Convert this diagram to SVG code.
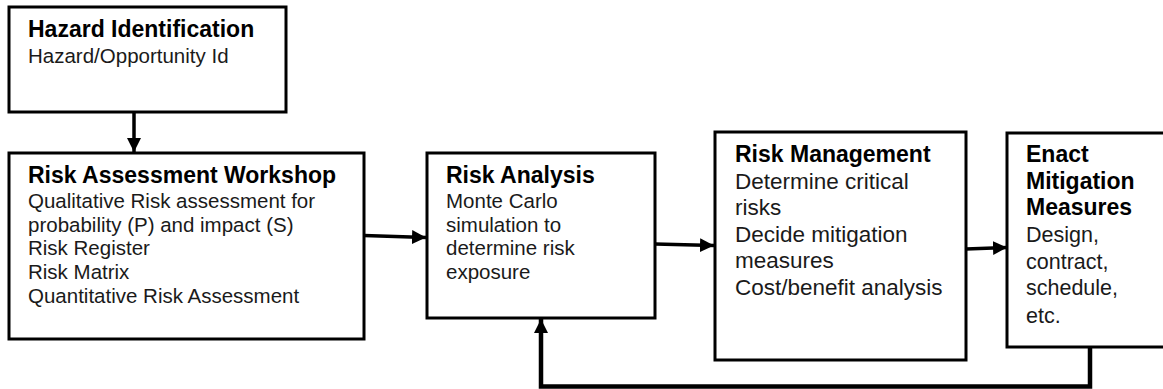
<svg xmlns="http://www.w3.org/2000/svg" width="1163" height="389" viewBox="0 0 1163 389">
<style>
.box{fill:#fff;stroke:#000;stroke-width:3}
.t{font-family:"Liberation Sans",Arial,sans-serif;font-weight:bold;font-size:23px;fill:#000}
.b{font-family:"Liberation Sans",Arial,sans-serif;font-size:20.5px;fill:#1a1a1a}
.b4{font-family:"Liberation Sans",Arial,sans-serif;font-size:22.5px;fill:#1a1a1a}
.b5{font-family:"Liberation Sans",Arial,sans-serif;font-size:21.5px;fill:#1a1a1a}
.c{fill:none;stroke:#000;stroke-width:3.5}
.fb{fill:none;stroke:#000;stroke-width:4.5}
</style>
<defs>
<marker id="ah" markerUnits="userSpaceOnUse" markerWidth="15" markerHeight="15" refX="14" refY="7" orient="auto">
<path d="M0,0 L14,7 L0,14 z" fill="#000"/>
</marker>
</defs>
<g id="hazard-identification">
<rect class="box" x="9" y="7" width="277" height="105"/>
<text class="t" x="28" y="37">Hazard Identification</text>
<text class="b" x="28" y="63">Hazard/Opportunity Id</text>
</g>
<g id="risk-assessment-workshop">
<rect class="box" x="9" y="153" width="355" height="186"/>
<text class="t" x="28" y="183">Risk Assessment Workshop</text>
<text class="b" x="28" y="208">Qualitative Risk assessment for</text>
<text class="b" x="28" y="231.7">probability (P) and impact (S)</text>
<text class="b" x="28" y="255.3">Risk Register</text>
<text class="b" x="28" y="279">Risk Matrix</text>
<text class="b" x="28" y="302.7">Quantitative Risk Assessment</text>
</g>
<g id="risk-analysis">
<rect class="box" x="427" y="153" width="228" height="165"/>
<text class="t" x="446" y="183">Risk Analysis</text>
<text class="b" x="446" y="208">Monte Carlo</text>
<text class="b" x="446" y="231.7">simulation to</text>
<text class="b" x="446" y="255.3">determine risk</text>
<text class="b" x="446" y="279">exposure</text>
</g>
<g id="risk-management">
<rect class="box" x="715" y="132" width="251" height="228"/>
<text class="t" x="735" y="162">Risk Management</text>
<text class="b4" x="735" y="188.5">Determine critical</text>
<text class="b4" x="735" y="215">risks</text>
<text class="b4" x="735" y="241.5">Decide mitigation</text>
<text class="b4" x="735" y="268">measures</text>
<text class="b4" x="735" y="294.5">Cost/benefit analysis</text>
</g>
<g id="enact-mitigation-measures">
<rect class="box" x="1007" y="133" width="180" height="214"/>
<text class="t" x="1026" y="162">Enact</text>
<text class="t" x="1026" y="188.7">Mitigation</text>
<text class="t" x="1026" y="215.4">Measures</text>
<text class="b5" x="1026" y="242">Design,</text>
<text class="b5" x="1026" y="268.7">contract,</text>
<text class="b5" x="1026" y="295.4">schedule,</text>
<text class="b5" x="1026" y="322.5">etc.</text>
</g>
<g id="connectors">
<line class="c" x1="134" y1="112" x2="134" y2="152" marker-end="url(#ah)"/>
<line class="c" x1="364" y1="235.5" x2="426" y2="237.5" marker-end="url(#ah)"/>
<line class="c" x1="655" y1="244" x2="714" y2="245.5" marker-end="url(#ah)"/>
<line class="c" x1="966" y1="249" x2="1007" y2="247.5" marker-end="url(#ah)"/>
<polyline class="fb" points="1090,347 1090,386.5 541,386.5 541,319" marker-end="url(#ah)"/>
</g>
</svg>
